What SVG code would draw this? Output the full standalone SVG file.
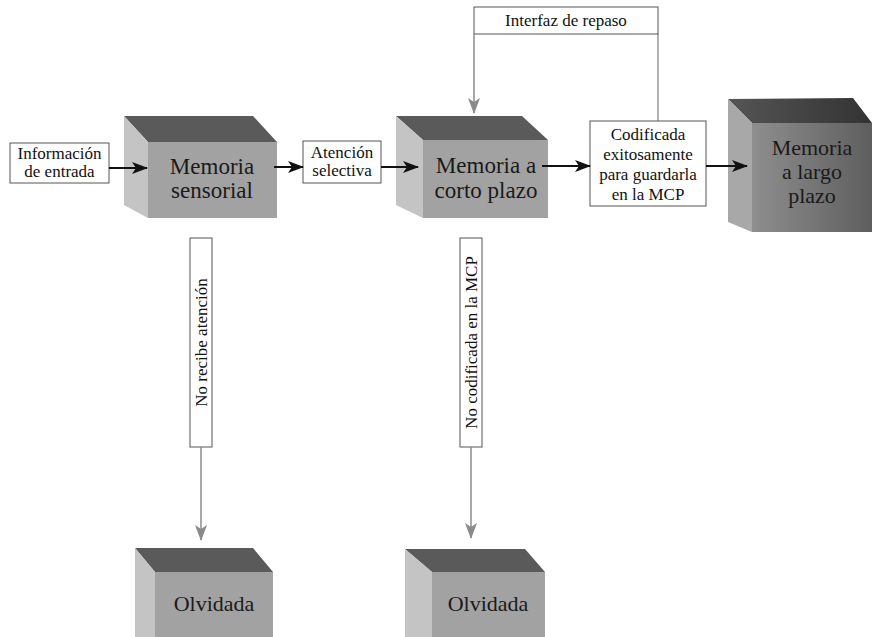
<svg xmlns="http://www.w3.org/2000/svg" width="874" height="637" viewBox="0 0 874 637">
<defs>
<marker id="ab" markerUnits="userSpaceOnUse" markerWidth="16" markerHeight="12" viewBox="0 0 16 12" refX="15" refY="6" orient="auto">
<path d="M0,0 L16,6 L0,12 L4,6 z" fill="#111"/>
</marker>
<marker id="ag" markerUnits="userSpaceOnUse" markerWidth="12" markerHeight="16" viewBox="0 0 12 16" refX="6" refY="15" orient="0">
<path d="M0,0 L6,4 L12,0 L6,16 z" fill="#8a8a8a"/>
</marker>
<linearGradient id="lg" x1="0" y1="0" x2="1" y2="0">
<stop offset="0" stop-color="#8e8e8e"/>
<stop offset="1" stop-color="#5e5e5e"/>
</linearGradient>
<linearGradient id="lt" x1="0" y1="0" x2="1" y2="0">
<stop offset="0" stop-color="#555"/>
<stop offset="1" stop-color="#333"/>
</linearGradient>
</defs>
<style>
.box{fill:#fff;stroke:#555;stroke-width:1}
.lbl{font-family:"Liberation Serif",serif;font-size:17px;fill:#111;text-anchor:middle}
.cube{font-family:"Liberation Serif",serif;font-size:23px;fill:#1a1a1a;text-anchor:middle}
.top{fill:#5a5a5a}
.side{fill:#c4c4c4}
.front{fill:#a2a2a2}
.ab{stroke:#111;stroke-width:2;fill:none}
.ag{stroke:#8a8a8a;stroke-width:1.5;fill:none}
.ln{stroke:#666;stroke-width:1;fill:none}
</style>

<g id="informacion">
<rect class="box" x="10" y="143" width="99" height="40"/>
<text class="lbl" x="59.5" y="159">Información</text>
<text class="lbl" x="59.5" y="177">de entrada</text>
</g>

<g id="memoria-sensorial">
<polygon class="top" points="124,116 253,116 277,142 148,142"/>
<polygon class="side" points="124,116 148,142 148,218 124,205"/>
<polygon class="front" points="148,142 277,142 277,218 148,218"/>
<text class="cube" x="212" y="174">Memoria</text>
<text class="cube" x="212" y="198">sensorial</text>
</g>

<g id="atencion">
<rect class="box" x="303" y="141" width="78" height="42"/>
<text class="lbl" x="342" y="158">Atención</text>
<text class="lbl" x="342" y="176">selectiva</text>
</g>

<g id="memoria-corto">
<polygon class="top" points="396,116 522,116 548,140 423,140"/>
<polygon class="side" points="396,116 423,140 423,218 396,205"/>
<polygon class="front" points="423,140 548,140 548,218 423,218"/>
<text class="cube" x="486" y="173">Memoria a</text>
<text class="cube" x="486" y="198">corto plazo</text>
</g>

<g id="interfaz">
<rect class="box" x="474" y="7" width="184" height="27"/>
<text class="lbl" x="566" y="26">Interfaz de repaso</text>
</g>

<g id="codificada">
<rect class="box" x="590" y="121" width="116" height="85"/>
<text class="lbl" x="648" y="140">Codificada</text>
<text class="lbl" x="648" y="160">exitosamente</text>
<text class="lbl" x="648" y="180">para guardarla</text>
<text class="lbl" x="648" y="200">en la MCP</text>
</g>

<g id="memoria-largo">
<polygon fill="url(#lt)" points="728,99 853,98 872,123 752,123"/>
<polygon fill="#a8a8a8" points="728,99 752,123 752,232 728,222"/>
<polygon fill="url(#lg)" points="752,123 872,123 872,232 752,232"/>
<text class="cube" style="font-size:22px" x="812" y="155">Memoria</text>
<text class="cube" style="font-size:22px" x="812" y="179">a largo</text>
<text class="cube" style="font-size:22px" x="812" y="203">plazo</text>
</g>

<g id="no-recibe">
<rect class="box" x="190" y="238" width="22" height="209"/>
<text class="lbl" transform="translate(207,342.5) rotate(-90)" x="0" y="0">No recibe atención</text>
</g>

<g id="no-codificada">
<rect class="box" x="460" y="238" width="22" height="209"/>
<text class="lbl" transform="translate(477,342.5) rotate(-90)" x="0" y="0">No codificada en la MCP</text>
</g>

<g id="olvidada-1">
<polygon class="top" points="135,548 253,548 273,572 155,572"/>
<polygon class="side" points="135,548 155,572 155,637 135,637"/>
<polygon class="front" points="155,572 273,572 273,637 155,637"/>
<text class="cube" style="font-size:22px" x="214" y="611">Olvidada</text>
</g>

<g id="olvidada-2">
<polygon class="top" points="405,549 525,549 545,572 432,572"/>
<polygon class="side" points="405,549 432,572 432,637 405,637"/>
<polygon class="front" points="432,572 545,572 545,637 432,637"/>
<text class="cube" style="font-size:22px" x="488" y="611">Olvidada</text>
</g>

<g id="connectors">
<line class="ab" x1="109" y1="168" x2="147" y2="168" marker-end="url(#ab)"/>
<line class="ab" x1="274" y1="167" x2="303" y2="167" marker-end="url(#ab)"/>
<line class="ab" x1="381" y1="167" x2="418" y2="167" marker-end="url(#ab)"/>
<line class="ab" x1="542" y1="166" x2="590" y2="166" marker-end="url(#ab)"/>
<line class="ab" x1="706" y1="166" x2="747" y2="166" marker-end="url(#ab)"/>
<line class="ag" x1="474" y1="34" x2="474" y2="113" marker-end="url(#ag)"/>
<line class="ln" x1="658" y1="34" x2="658" y2="121"/>
<line class="ag" x1="201" y1="447" x2="201" y2="540" marker-end="url(#ag)"/>
<line class="ag" x1="471" y1="447" x2="471" y2="538" marker-end="url(#ag)"/>
</g>
</svg>
